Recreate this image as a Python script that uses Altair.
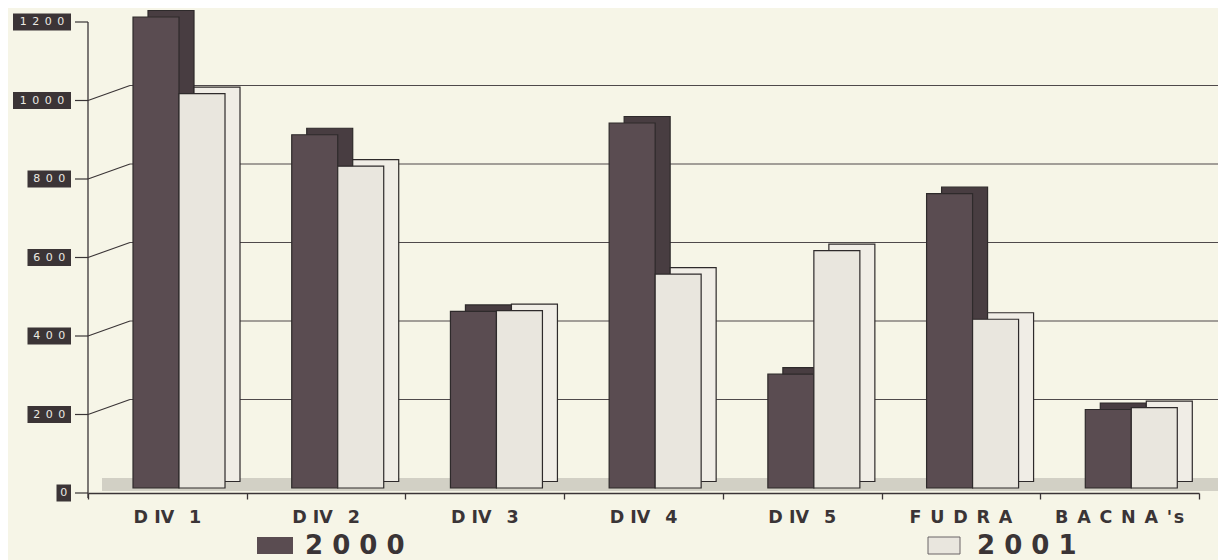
import altair as alt
import pandas as pd

# ---------------- data ----------------
categories = ["DIV 1", "DIV 2", "DIV 3", "DIV 4", "DIV 5", "FUDRA", "BACNA's"]
cat_labels = [
    "D\u00a0IV\u2002\u00a01",
    "D\u00a0IV\u2002\u00a02",
    "D\u00a0IV\u2002\u00a03",
    "D\u00a0IV\u2002\u00a04",
    "D\u00a0IV\u2002\u00a05",
    "F\u2002U\u2002D\u2002R\u2002A",
    "B\u2002A\u2002C\u2002N\u2002A\u2002'\u200as",
]
values_2000 = [1200, 900, 450, 930, 290, 750, 200]
values_2001 = [1005, 820, 452, 545, 605, 430, 205]
years = ["2000", "2001"]
tick_values = [0, 200, 400, 600, 800, 1000, 1200]
tick_labels = ["0", "2\u20020\u20020", "4\u20020\u20020", "6\u20020\u20020",
               "8\u20020\u20020", "1\u20020\u20020\u20020", "1\u20022\u20020\u20020"]
tick_digits = [1, 3, 3, 3, 3, 4, 4]
grid_values = [200, 400, 600, 800, 1000]
legend_labels = ["2\u00a00\u00a00\u00a00", "2\u00a00\u00a00\u00a01"]

# ---------------- tables ----------------
bars = pd.DataFrame(
    [{"cat": c, "year": "2000", "v": v} for c, v in zip(categories, values_2000)]
    + [{"cat": c, "year": "2001", "v": v} for c, v in zip(categories, values_2001)]
)
ticks = pd.DataFrame({"v": tick_values, "lab": tick_labels, "n": tick_digits})
grid = pd.DataFrame({"v": grid_values})
cats = pd.DataFrame({"cat": categories, "lab": cat_labels})
one = pd.DataFrame({"k": [0]})

W, H = 1111, 471
BG = "#f6f5e7"
INK = "#3a3436"
DARK = "#5a4c51"
DARK_SIDE = "#483d41"
LIGHT = "#e9e6de"
LIGHT_SIDE = "#f0ede6"

ys = alt.Scale(domain=[0, 1200], nice=False, zero=True)
xs = alt.Scale(domain=categories, paddingInner=0, paddingOuter=0)
xaxis = alt.Axis(labels=False, title=None, offset=5, tickBand="extent", tickSize=6,
                 domainColor=INK, tickColor=INK, domainWidth=1.3, tickWidth=1.3, grid=False)
X = alt.X("cat:N", scale=xs, sort=categories, axis=xaxis)
Y = alt.Y("v:Q", scale=ys, axis=None)

# gridlines on the back wall
grid_l = alt.Chart(grid).mark_rule(color="#4f494b", strokeWidth=1.2, yOffset=-10).encode(
    x=alt.value(42), x2=alt.value(1130), y=Y)

# diagonal connectors
diag = alt.Chart(grid).mark_rule(color=INK, strokeWidth=1.1, yOffset=5, y2Offset=-10).encode(
    x=alt.value(0), x2=alt.value(42), y=Y, y2=alt.Y2("v:Q"))

short = alt.Chart(ticks).mark_rule(color=INK, strokeWidth=1.2, yOffset=5).encode(
    x=alt.value(-13), x2=alt.value(0), y=Y)

vaxis = alt.Chart(one).mark_rule(color=INK, strokeWidth=1.3, yOffset=5, y2Offset=10).encode(
    x=alt.value(0), y=alt.Y(datum=1200, scale=ys, axis=None), y2=alt.Y2(datum=0))

boxes = alt.Chart(ticks).transform_calculate(bx="-17 - 14.5*datum.n").mark_rect(
    color="#3b3436", yOffset=-3.5, y2Offset=13.5).encode(
    x=alt.X("bx:Q", scale=None), x2=alt.value(-17), y=Y, y2=alt.Y2("v:Q"))

box_txt = alt.Chart(ticks).transform_calculate(tx="-17 - 7.25*datum.n").mark_text(
    color="#ebe9e2", fontSize=11, font="DejaVu Sans", yOffset=5, align="center",
    baseline="middle").encode(x=alt.X("tx:Q", scale=None), y=Y, text="lab:N")

floor = alt.Chart(one).mark_rect(color="#d2d0c5").encode(
    x=alt.value(14), x2=alt.value(1130), y=alt.value(461), y2=alt.value(474))

def bar_layers(year, dx, face, side):
    d = alt.Chart(bars).transform_filter(alt.datum.year == year)
    depth = d.mark_bar(width=46, xOffset=dx + 15, yOffset=-6.5, y2Offset=-6.5, fill=side,
                       stroke="#2e2a2b", strokeWidth=1.2).encode(x=X, y=Y)
    front = d.mark_bar(width=46, xOffset=dx, fill=face, stroke="#2e2a2b",
                       strokeWidth=1.2).encode(x=X, y=Y)
    return [depth, front]

bl = bar_layers("2000", -11.35, DARK, DARK_SIDE) + bar_layers("2001", 34.65, LIGHT, LIGHT_SIDE)

cat_txt = alt.Chart(cats).mark_text(font="DejaVu Sans", fontWeight="bold", fontSize=17.5,
                                    color=INK, baseline="alphabetic").encode(
    x=X, y=alt.value(506), text="lab:N")

leg_sw1 = alt.Chart(one).mark_rect(color=DARK).encode(
    x=alt.value(169), x2=alt.value(205), y=alt.value(520), y2=alt.value(537))
leg_sw2 = alt.Chart(one).mark_rect(color=LIGHT, stroke="#6a6466", strokeWidth=1).encode(
    x=alt.value(840), x2=alt.value(872), y=alt.value(520), y2=alt.value(537))
leg_t1 = alt.Chart(one).mark_text(font="DejaVu Sans", fontWeight="bold", fontSize=26,
                                  color=INK, align="left", baseline="bottom").encode(
    x=alt.value(217), y=alt.value(542), text=alt.value(legend_labels[0]))
leg_t2 = alt.Chart(one).mark_text(font="DejaVu Sans", fontWeight="bold", fontSize=26,
                                  color=INK, align="left", baseline="bottom").encode(
    x=alt.value(889), y=alt.value(542), text=alt.value(legend_labels[1]))

chart = alt.layer(
    grid_l, diag, short, vaxis, floor, *bl, boxes, box_txt, cat_txt,
    leg_sw1, leg_sw2, leg_t1, leg_t2
).properties(
    width=W, height=H,
    autosize=alt.AutoSizeParams(type="none"),
    padding={"left": 80, "top": 9, "right": 19, "bottom": 72},
).configure(background=BG).configure_view(stroke=None, fill=BG)

chart.save("out.html", embed_options={"renderer": "svg", "actions": False})
